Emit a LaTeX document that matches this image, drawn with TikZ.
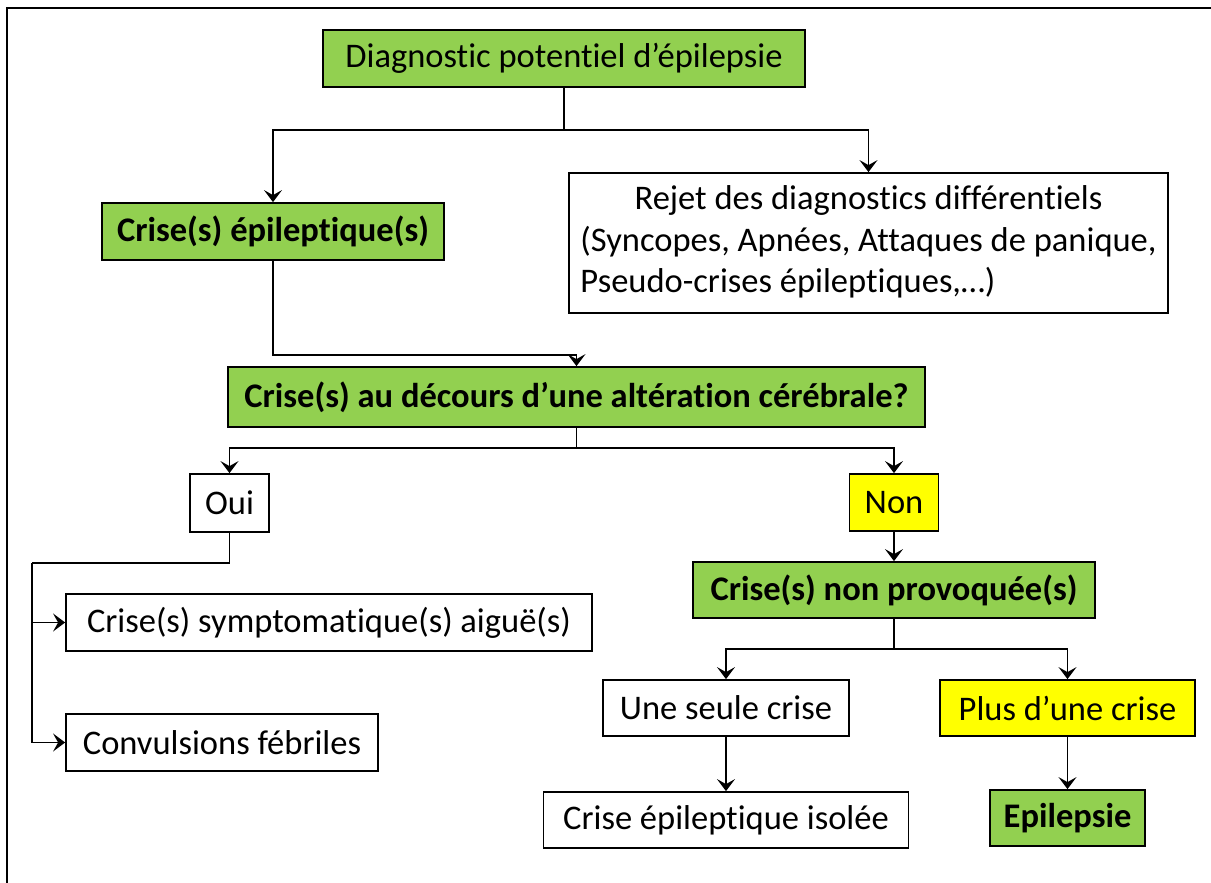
\documentclass[tikz,border=0pt]{standalone}
\usepackage{fontspec}
\setmainfont{Carlito}[Ligatures=NoCommon]
\usetikzlibrary{arrows.meta}
\definecolor{boxgreen}{HTML}{92D050}
\definecolor{boxyellow}{HTML}{FFFF00}
\begin{document}
\begin{tikzpicture}[x=1pt,y=-1pt,
  every node/.style={font=\fontsize{34.5}{41.5}\selectfont},
  bf/.style={font=\fontsize{34.5}{41.5}\selectfont\bfseries},
  box/.style={draw=black,line width=1.8pt,inner sep=0pt,align=center},
  gbox/.style={box,fill=boxgreen},
  ybox/.style={box,fill=boxyellow},
  wbox/.style={box,fill=white},
  conn/.style={line width=1.8pt,draw=black},
  arr/.style={conn,-{Stealth[length=12pt,width=18pt,inset=5pt]}}]
\useasboundingbox (0,0) rectangle (1211,883);
\draw[line width=2.2pt] (7,883) -- (7,8) -- (1211,8);

\node[gbox,minimum width=482pt,minimum height=57pt] (diag) at (564,58.5) {Diagnostic potentiel d’épilepsie};
\node[gbox,bf,minimum width=342pt,minimum height=57pt] (crep) at (273,231.5) {Crise(s) épileptique(s)};
\node[wbox,minimum width=599pt,minimum height=140pt] (rejet) at (868.5,243) {\begin{tabular}{@{}l@{}}\multicolumn{1}{@{}c@{}}{Rejet des diagnostics différentiels}\\(Syncopes, Apnées, Attaques de panique,\\Pseudo-crises épileptiques,…)\end{tabular}};
\node[gbox,bf,minimum width=697pt,minimum height=60pt] (decours) at (576.5,397) {Crise(s) au décours d’une altération cérébrale?};
\node[wbox,minimum width=79pt,minimum height=58pt] (oui) at (229.5,503) {Oui};
\node[ybox,minimum width=89pt,minimum height=57pt] (non) at (894,502.5) {Non};
\node[gbox,bf,minimum width=402pt,minimum height=56pt] (nonprov) at (894,590) {Crise(s) non provoquée(s)};
\node[wbox,minimum width=246pt,minimum height=56pt] (seule) at (726,708) {Une seule crise};
\node[ybox,minimum width=255pt,minimum height=56pt] (plus) at (1067.5,708) {Plus d’une crise};
\node[wbox,minimum width=365pt,minimum height=56pt] (isolee) at (726,820) {Crise épileptique isolée};
\node[gbox,bf,minimum width=155pt,minimum height=56pt] (epi) at (1067.5,818) {Epilepsie};
\node[wbox,minimum width=526pt,minimum height=57pt] (symp) at (329,622.5) {Crise(s) symptomatique(s) aiguë(s)};
\node[wbox,minimum width=312pt,minimum height=57pt] (conv) at (222,742.5) {Convulsions fébriles};

\coordinate (j1) at (564,130);
\coordinate (j2) at (420,355);
\coordinate (j3) at (576.5,448);
\coordinate (j4) at (32,563);
\coordinate (j5) at (894,649);

\draw[conn] (diag.south) -- (j1);
\draw[arr] (j1) -| (crep.north);
\draw[arr] (j1) -| (rejet.north);
\draw[arr] (crep.south) |- (j2) -| (decours.north);
\draw[conn] (decours.south) -- (j3);
\draw[arr] (j3) -| (oui.north);
\draw[arr] (j3) -| (non.north);
\draw[conn] (oui.south) |- (j4);
\draw[arr] (j4) |- (symp.west);
\draw[arr] (j4) |- (conv.west);
\draw[arr] (non.south) -- (nonprov.north);
\draw[conn] (nonprov.south) -- (j5);
\draw[arr] (j5) -| (seule.north);
\draw[arr] (j5) -| (plus.north);
\draw[arr] (seule.south) -- (isolee.north);
\draw[arr] (plus.south) -- (epi.north);
\end{tikzpicture}
\end{document}
